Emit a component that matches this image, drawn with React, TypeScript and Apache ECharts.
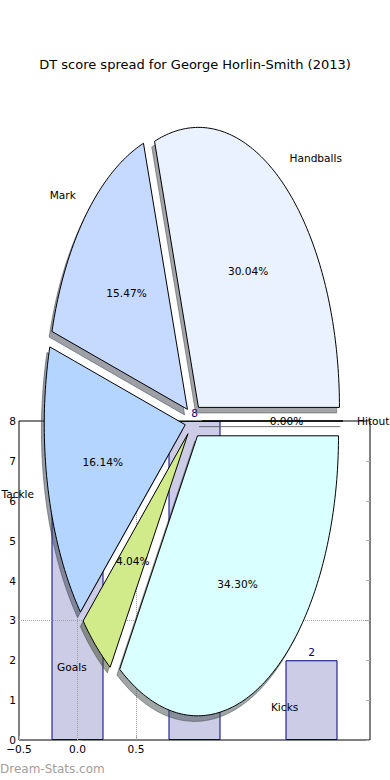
import React, { useEffect, useRef } from "react";
import * as echarts from "echarts";

// ---- data ----
const chartTitle = "DT score spread for George Horlin-Smith (2013)";
const pieLabels = ["Handballs", "Mark", "Tackle", "Goals", "Kicks", "Hitout"];
const pieValues = [30.04, 15.47, 16.14, 4.04, 34.3, 0.0];

const barX = [0, 1, 2];
const barValues = [6, 8, 2];

const xTickValues = [-0.5, 0, 0.5];
const xTickLabels = ["\u22120.5", "0.0", "0.5"];
const yTickValues = [0, 1, 2, 3, 4, 5, 6, 7, 8];
const gridLinesX = [0, 0.5];
const gridLinesY = [3];

// ---- styles ----
const pieColors = ["#ebf2ff", "#c6d9ff", "#b4d5ff", "#d1eb8b", "#daffff", "#ffffff"];
const EXPLODE = 0.06;
const FONT = "DejaVu Sans";
const FS = 10.6;

function shadowOf(hex: string) {
  const r = parseInt(hex.slice(1, 3), 16);
  const g = parseInt(hex.slice(3, 5), 16);
  const b = parseInt(hex.slice(5, 7), 16);
  return `rgba(${Math.round(r * 0.3)},${Math.round(g * 0.3)},${Math.round(b * 0.3)},0.5)`;
}

export default function App() {
  const ref = useRef<HTMLDivElement>(null);

  useEffect(() => {
    document.body.style.margin = "0";
    const chart = echarts.init(ref.current!, null, { renderer: "svg" });

    const total = pieValues.reduce((a, b) => a + b, 0);
    const starts: number[] = [];
    let acc = 0;
    pieValues.forEach((v) => {
      starts.push(acc);
      acc += v;
    });

    const renderItem = (params: any, api: any) => {
      const i = params.dataIndex;
      const v = pieValues[i];
      const t1 = (starts[i] / total) * Math.PI * 2;
      const t2 = ((starts[i] + v) / total) * Math.PI * 2;
      const tm = (t1 + t2) / 2;
      const ox = EXPLODE * Math.cos(tm);
      const oy = EXPLODE * Math.sin(tm);
      const pts: number[][] = [[ox, oy]];
      const n = Math.max(2, Math.ceil((t2 - t1) / (Math.PI / 180)));
      for (let k = 0; k <= n; k++) {
        const a = t1 + ((t2 - t1) * k) / n;
        pts.push([ox + Math.cos(a), oy + Math.sin(a)]);
      }
      const wedgePts = pts.map((p) => api.coord(p));
      const shadowPts = pts.map((p) => api.coord([p[0] - 0.02, p[1] - 0.02]));
      const pctPos = api.coord([ox + 0.6 * Math.cos(tm), oy + 0.6 * Math.sin(tm)]);
      const lx = ox + 1.1 * Math.cos(tm);
      const labPos = api.coord([lx, oy + 1.1 * Math.sin(tm)]);
      const sc = shadowOf(pieColors[i]);
      return {
        type: "group",
        children: [
          {
            type: "polygon",
            z2: 0,
            shape: { points: shadowPts },
            style: { fill: sc, stroke: sc, lineWidth: 1 },
          },
          {
            type: "polygon",
            z2: 1,
            shape: { points: wedgePts },
            style: { fill: pieColors[i], stroke: "#000", lineWidth: 1 },
          },
          {
            type: "text",
            z2: 5,
            x: pctPos[0],
            y: pctPos[1],
            style: {
              text: ((v / total) * 100).toFixed(2) + "%",
              fontFamily: FONT,
              fontSize: FS,
              fill: "#000",
              align: "center",
              verticalAlign: "middle",
            },
          },
          {
            type: "text",
            z2: 5,
            x: labPos[0],
            y: labPos[1],
            style: {
              text: pieLabels[i],
              fontFamily: FONT,
              fontSize: FS,
              fill: "#000",
              align: lx > 0 ? "left" : "right",
              verticalAlign: "middle",
            },
          },
        ],
      };
    };

    const option: any = {
      animation: false,
      textStyle: { fontFamily: FONT },
      title: {
        text: chartTitle,
        left: "center",
        top: 53,
        textStyle: { fontFamily: FONT, fontSize: 13, fontWeight: "normal", color: "#000" },
      },
      graphic: [
        {
          type: "text",
          left: 0,
          top: 763,
          style: { text: "Dream-Stats.com", fontFamily: FONT, fontSize: 12, fill: "#a0a0a0" },
        },
      ],
      grid: [
        {
          left: 19,
          top: 421,
          width: 351,
          height: 319,
          show: true,
          borderColor: "#000",
          borderWidth: 1,
          backgroundColor: "transparent",
        },
        { left: 24.3, top: 85, width: 338.4, height: 672, show: false },
      ],
      xAxis: [
        {
          type: "value",
          gridIndex: 0,
          min: -0.5,
          max: 2.5,
          interval: 0.5,
          axisLine: { show: false },
          splitLine: { show: false },
          axisTick: {
            inside: true,
            length: 4,
            customValues: xTickValues,
            lineStyle: { color: "#b0b0b0" },
          },
          axisLabel: {
            customValues: xTickValues,
            margin: 3,
            fontSize: FS,
            color: "#000",
            fontFamily: FONT,
            formatter: (val: number) => {
              const idx = xTickValues.findIndex((t) => Math.abs(t - val) < 1e-9);
              return idx >= 0 ? xTickLabels[idx] : "";
            },
          },
        },
        { type: "value", gridIndex: 1, min: -1.2, max: 1.2, show: false },
      ],
      yAxis: [
        {
          type: "value",
          gridIndex: 0,
          min: 0,
          max: 8,
          interval: 1,
          axisLine: { show: false },
          splitLine: { show: false },
          axisTick: { inside: true, length: 4, lineStyle: { color: "#b0b0b0" }, customValues: yTickValues },
          axisLabel: { margin: 3, fontSize: FS, color: "#000", fontFamily: FONT, customValues: yTickValues },
        },
        {
          type: "value",
          gridIndex: 0,
          position: "right",
          min: 0,
          max: 8,
          interval: 1,
          axisLine: { show: false },
          splitLine: { show: false },
          axisTick: { inside: true, length: 4, lineStyle: { color: "#b0b0b0" } },
          axisLabel: { show: false },
        },
        { type: "value", gridIndex: 1, min: -1.2, max: 1.2, show: false },
      ],
      series: [
        {
          type: "bar",
          xAxisIndex: 0,
          yAxisIndex: 0,
          z: 2,
          barWidth: 52,
          data: barX.map((x, i) => [x, barValues[i]]),
          itemStyle: { color: "#ccccE6", borderColor: "#000080", borderWidth: 1 },
          label: { show: true, position: "top", distance: 3, color: "#000080", fontSize: FS, fontFamily: FONT },
          markLine: {
            silent: true,
            z: 3,
            symbol: "none",
            label: { show: false },
            lineStyle: { type: "dotted", color: "#a0a0a0", width: 1 },
            data: [
              ...gridLinesX.map((x) => ({ xAxis: x })),
              ...gridLinesY.map((y) => ({ yAxis: y })),
            ],
          },
        },
        {
          type: "custom",
          xAxisIndex: 1,
          yAxisIndex: 2,
          z: 10,
          clip: false,
          renderItem,
          data: pieValues.map((v, i) => ({ value: [0, 0, v], name: pieLabels[i] })),
        },
      ],
    };

    chart.setOption(option);
    return () => chart.dispose();
  }, []);

  return <div ref={ref} style={{ width: 390, height: 780 }} />;
}
